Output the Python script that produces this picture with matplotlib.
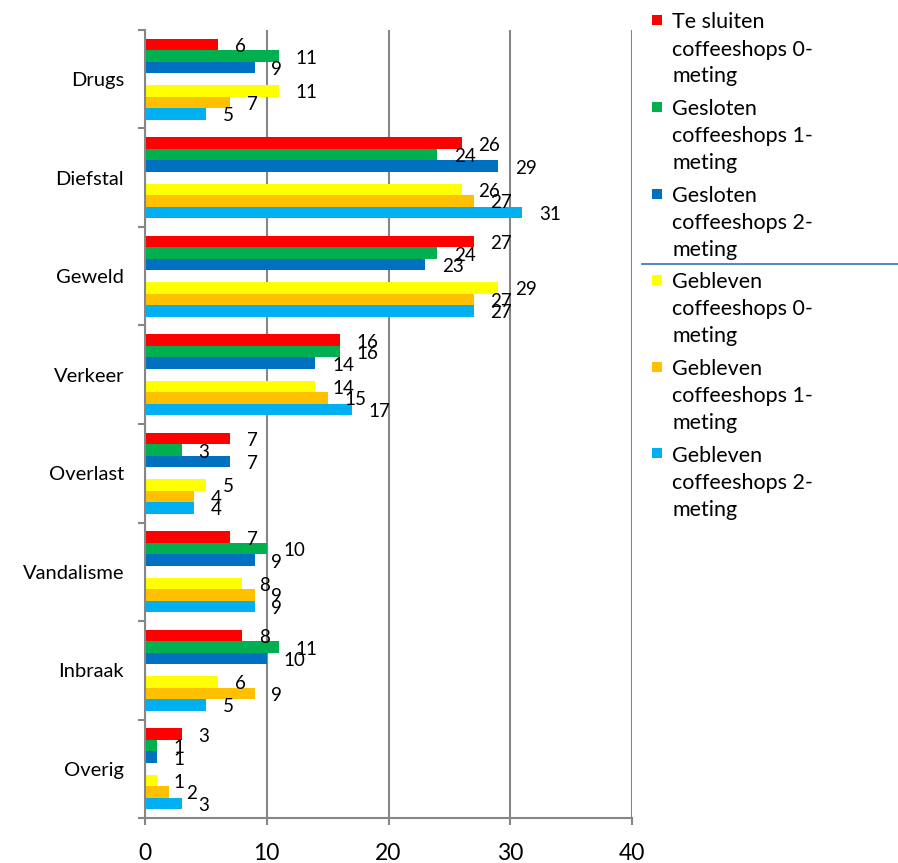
import matplotlib.pyplot as plt
import numpy as np
from matplotlib.lines import Line2D
from matplotlib.patches import Rectangle

plt.rcParams["font.family"] = ["Lato", "DejaVu Sans"]

# ─── Data ───
categories = ["Drugs", "Diefstal", "Geweld", "Verkeer",
              "Overlast", "Vandalisme", "Inbraak", "Overig"]

series_names = [
    "Te sluiten\ncoffeeshops 0-\nmeting",
    "Gesloten\ncoffeeshops 1-\nmeting",
    "Gesloten\ncoffeeshops 2-\nmeting",
    "Gebleven\ncoffeeshops 0-\nmeting",
    "Gebleven\ncoffeeshops 1-\nmeting",
    "Gebleven\ncoffeeshops 2-\nmeting",
]
series_colors = ["#FF0000", "#00B050", "#0070C0", "#FFFF00", "#FFC000", "#00B0F0"]

te_sluiten_0 = [6, 26, 27, 16, 7, 7, 8, 3]
gesloten_1 = [11, 24, 24, 16, 3, 10, 11, 1]
gesloten_2 = [9, 29, 23, 14, 7, 9, 10, 1]
gebleven_0 = [11, 26, 29, 14, 5, 8, 6, 1]
gebleven_1 = [7, 27, 27, 15, 4, 9, 9, 2]
gebleven_2 = [5, 31, 27, 17, 4, 9, 5, 3]
series_values = [te_sluiten_0, gesloten_1, gesloten_2,
                 gebleven_0, gebleven_1, gebleven_2]

x_ticks = [0, 10, 20, 30, 40]

# ─── Layout ───
W, H = 898, 863
fig = plt.figure(figsize=(W / 100, H / 100), dpi=100)
ax = fig.add_axes([145 / W, 1 - 818 / H, 487 / W, 788 / H])

grey = "#868686"
n_slots = 7                 # 3 bars, empty slot, 3 bars
slot_h = 0.82 / n_slots
slots = [0, 1, 2, 4, 5, 6]
centers = np.arange(len(categories))

for vals, color, slot in zip(series_values, series_colors, slots):
    ys = centers + (slot - 3) * slot_h
    ax.barh(ys, vals, height=slot_h, color=color, edgecolor="none", zorder=2)
    for y, v in zip(ys, vals):
        ax.annotate(f"{v}", (v, y), xytext=(12, -1.5), textcoords="offset points",
                    ha="left", va="center", fontsize=13.5, color="black", zorder=3)

ax.set_xlim(0, 40)
ax.set_ylim(len(categories) - 0.5, -0.5)
ax.set_xticks(x_ticks)
ax.set_xticklabels([str(t) for t in x_ticks], fontsize=16.5)
ax.tick_params(axis="x", length=5, width=1.5, color=grey, pad=13)

ax.set_yticks(np.arange(-0.5, len(categories), 1))
ax.set_yticklabels([])
ax.tick_params(axis="y", which="major", length=5, width=1.5, color=grey)
ax.set_yticks(centers, minor=True)
ax.set_yticklabels(categories, minor=True, fontsize=14.5)
ax.tick_params(axis="y", which="minor", length=0, pad=15)

ax.set_axisbelow(True)
ax.xaxis.grid(True, color=grey, linewidth=1.5)
for side in ["top", "right"]:
    ax.spines[side].set_visible(False)
for side in ["left", "bottom"]:
    ax.spines[side].set_color(grey)
    ax.spines[side].set_linewidth(1.5)

# ─── Legend (drawn by hand so the swatch sits on the first line) ───
entry_step = 86.6
line_step = 27
for j, (name, color) in enumerate(zip(series_names, series_colors)):
    y0 = 20.5 + entry_step * j
    fig.patches.append(Rectangle((652 / W, 1 - (y0 + 5) / H), 10 / W, 10 / H,
                                 transform=fig.transFigure, facecolor=color,
                                 edgecolor="none"))
    for k, line in enumerate(name.split("\n")):
        fig.text(672 / W, 1 - (y0 + k * line_step) / H, line,
                 ha="left", va="center_baseline", fontsize=15.5)

fig.lines.append(Line2D([642 / W, 1], [1 - 264 / H, 1 - 264 / H],
                        transform=fig.transFigure, color="#4A7EBB", linewidth=1.3))

fig.savefig("out.png", dpi=100)
